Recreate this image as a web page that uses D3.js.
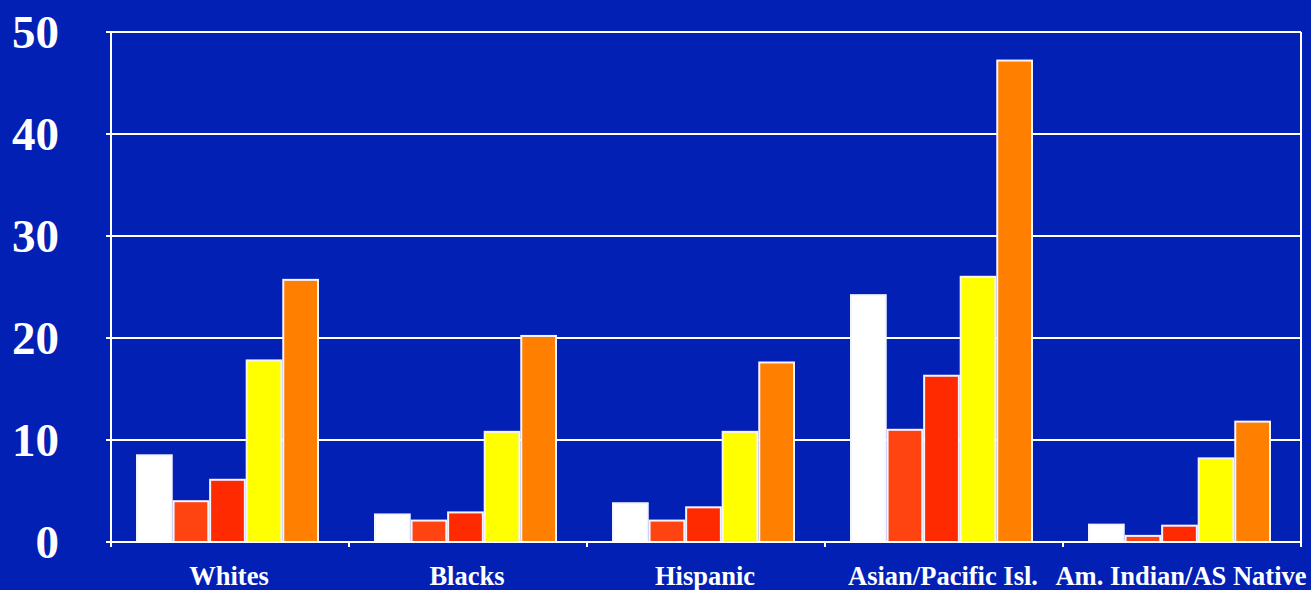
<!DOCTYPE html>
<html>
<head>
<meta charset="utf-8">
<script src="https://cdn.jsdelivr.net/npm/d3@7"></script>
<style>
  body { margin: 0; background: #0320b5; }
  svg { display: block; }
</style>
</head>
<body>
<div id="chart"></div>
<script>
// Chart data
var categories = ['Whites', 'Blacks', 'Hispanic', 'Asian/Pacific Isl.', 'Am. Indian/AS Native']
var seriesNames = ['s1', 's2', 's3', 's4', 's5']
var s1 = [8.5, 2.7, 3.8, 24.2, 1.7]
var s2 = [4.0, 2.1, 2.1, 11.0, 0.6]
var s3 = [6.1, 2.9, 3.4, 16.3, 1.6]
var s4 = [17.8, 10.8, 10.8, 26.0, 8.2]
var s5 = [25.7, 20.2, 17.6, 47.2, 11.8]
var yTicks = [0, 10, 20, 30, 40, 50]

var seriesValues = [s1, s2, s3, s4, s5]
var colors = ['#ffffff', '#ff4412', '#ff2a00', '#ffff00', '#ff7f00']

const width = 1311
const height = 590
const plotLeft = 111, plotRight = 1301, plotTop = 32, plotBottom = 542

var svg = d3.select('#chart')
  .append('svg')
  .attr('width', width)
  .attr('height', height)

svg.append('rect')
  .attr('width', width)
  .attr('height', height)
  .attr('fill', '#0320b5')

var y = d3.scaleLinear().domain([0, 50]).range([plotBottom, plotTop])
var x0 = d3.scaleBand().domain(categories).range([plotLeft, plotRight]).padding(0)
var x1 = d3.scaleBand().domain(seriesNames).range([26, 207]).paddingInner(0.05)

// gridlines
svg.append('g')
  .selectAll('line')
  .data(yTicks.filter(d => d > 0))
  .enter().append('line')
    .attr('x1', plotLeft - 5)
    .attr('x2', plotRight)
    .attr('y1', d => y(d))
    .attr('y2', d => y(d))
    .attr('stroke', 'white')
    .attr('stroke-width', 2)

// y tick labels
svg.append('g')
  .selectAll('text')
  .data(yTicks)
  .enter().append('text')
    .attr('x', 59)
    .attr('y', d => y(d) + 16)
    .attr('text-anchor', 'end')
    .attr('fill', 'white')
    .style('font-family', '"Liberation Serif", "Times New Roman", serif')
    .style('font-weight', 'bold')
    .style('font-size', '47px')
    .text(d => d)

// bars
var groups = svg.append('g')
  .selectAll('g')
  .data(categories)
  .enter().append('g')
    .attr('transform', d => 'translate(' + x0(d) + ',0)')

groups.selectAll('rect')
  .data((d, i) => seriesNames.map((s, j) => ({ s: s, v: seriesValues[j][i], c: colors[j] })))
  .enter().append('rect')
    .attr('x', d => x1(d.s))
    .attr('width', x1.bandwidth())
    .attr('y', d => y(d.v))
    .attr('height', d => y(0) - y(d.v))
    .attr('fill', d => d.c)
    .attr('stroke', '#f4f4ff')
    .attr('stroke-width', 2)

// axes frame
svg.append('line')
  .attr('x1', plotLeft).attr('x2', plotLeft)
  .attr('y1', plotTop).attr('y2', plotBottom + 5)
  .attr('stroke', 'white').attr('stroke-width', 2)
svg.append('line')
  .attr('x1', plotRight).attr('x2', plotRight)
  .attr('y1', plotTop).attr('y2', plotBottom + 5)
  .attr('stroke', 'white').attr('stroke-width', 2)
svg.append('line')
  .attr('x1', plotLeft - 5).attr('x2', plotRight)
  .attr('y1', plotBottom).attr('y2', plotBottom)
  .attr('stroke', 'white').attr('stroke-width', 2)

// category ticks
svg.append('g')
  .selectAll('line')
  .data(categories.slice(1))
  .enter().append('line')
    .attr('x1', d => x0(d)).attr('x2', d => x0(d))
    .attr('y1', plotBottom).attr('y2', plotBottom + 5)
    .attr('stroke', 'white').attr('stroke-width', 2)

// category labels
svg.append('g')
  .selectAll('text')
  .data(categories)
  .enter().append('text')
    .attr('x', d => x0(d) + x0.bandwidth() / 2 - 1)
    .attr('y', 585)
    .attr('text-anchor', 'middle')
    .attr('fill', 'white')
    .style('font-family', '"Liberation Serif", "Times New Roman", serif')
    .style('font-weight', 'bold')
    .style('font-size', '26.5px')
    .text(d => d)
</script>
</body>
</html>
